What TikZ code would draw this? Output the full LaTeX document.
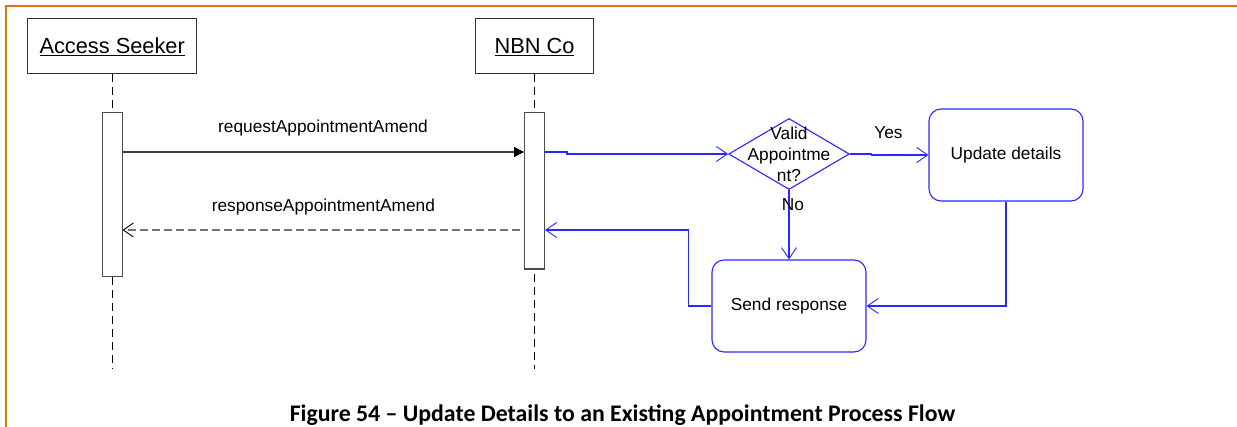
\documentclass[tikz,border=0pt]{standalone}
\usepackage{fontspec}
\setmainfont{Liberation Sans}
\newfontfamily\capfont{Carlito}
\usetikzlibrary{arrows.meta,shapes.geometric}
\definecolor{flowblue}{RGB}{40,40,255}
\definecolor{borderor}{RGB}{214,120,14}
\newcommand\lblfont{\fontsize{17.3}{21}\selectfont}
\newcommand\hdrfont{\fontsize{21.8}{26}\selectfont}
\tikzset{
  hdrbox/.style={draw=black!80, line width=1.1pt, fill=white, minimum height=55pt, inner sep=0pt, font=\hdrfont, text height=17pt, text depth=2pt},
  actbox/.style={draw=black!70, line width=1.1pt, fill=white, minimum width=19.7pt, inner sep=0pt},
  procbox/.style={draw=flowblue, line width=1.1pt, rounded corners=12pt, minimum width=154pt, minimum height=92pt, inner sep=0pt, font=\lblfont},
  decbox/.style={draw=flowblue, line width=1.1pt, diamond, minimum width=120.7pt, minimum height=71pt, inner sep=0pt},
  lifeln/.style={draw=black, line width=0.9pt, dash pattern=on 8pt off 5pt},
  reqmsg/.style={draw=black!75, line width=1.2pt, -{Triangle[length=10pt,width=10pt,color=black]}},
  respmsg/.style={draw=black!55, line width=1.7pt, dash pattern=on 8pt off 4pt, -{Straight Barb[length=10pt,width=14pt,line width=0.9pt,color=black]}},
  flow/.style={draw=flowblue, line width=1.1pt, -{Straight Barb[length=11pt,width=15pt,line width=0.9pt]}},
  lbl/.style={font=\lblfont, inner sep=0pt, anchor=base},
}
\begin{document}
\begin{tikzpicture}[x=1pt,y=-1pt]
\useasboundingbox[fill=white] (0,0) rectangle (1237,427);
% border
\draw[borderor, line width=2.5pt, line join=miter] (1237,6.2) -- (6.2,6.2) -- (6.2,427);
% participants
\node[hdrbox, minimum width=169pt] (as) at (112.2,45.8) {\underline{Access Seeker}};
\node[hdrbox, minimum width=117.6pt] (nbn) at (534.5,45.8) {\underline{NBN Co}};
\node[actbox, minimum height=164pt] (asact) at (112.2,194.7) {};
\node[actbox, minimum height=156.3pt] (nbnact) at (534.5,190.85) {};
\coordinate (asend) at (112.2,369);
\coordinate (nbnend) at (534.5,369);
\draw[lifeln] (as.south) -- (asact.north);
\draw[lifeln] (asact.south) -- (asend);
\draw[lifeln] (nbn.south) -- (nbnact.north);
\draw[lifeln] ([yshift=-4pt]nbnact.south) -- (nbnend);
% flow nodes
\node[decbox] (dec) at (789,154) {};
\node[font=\lblfont, align=center, inner sep=0pt] (dectxt) at (789,154) {Valid\\Appointme\\nt?};
\node[procbox] (upd) at (1006,155) {Update details};
\node[procbox] (send) at (789,306) {Send response};
\coordinate (reqy) at (0,152);
\coordinate (jog1) at (567,152);
\coordinate (jog2) at (871.5,154);
\coordinate (ret) at (688.5,230);
% messages
\draw[reqmsg] (asact.east |- reqy) -- (nbnact.west |- reqy);
\draw[respmsg] ([xshift=-4pt]nbnact.west |- ret) -- (asact.east |- ret);
\node[lbl] (reqlbl) at (323,133) {requestAppointmentAmend};
\node[lbl] (resplbl) at (323.4,211.7) {responseAppointmentAmend};
% flow connectors
\draw[flow] (nbnact.east |- jog1) -- (jog1) |- (dec.west);
\draw[flow] (dec.east) -- (jog2) |- (upd.west);
\draw[flow] (dec.south) -- (send.north);
\draw[flow] (upd.south) |- (send.east);
\draw[flow] (send.west) -| (ret) -- (nbnact.east |- ret);
\node[lbl] (yes) at (888.5,138.3) {Yes};
\node[lbl] (no) at (793,210.7) {No};
% caption
\node[font={\capfont\bfseries\fontsize{23.8}{28}\selectfont}, anchor=base, inner sep=0pt] (cap) at (622.5,421.7) {Figure 54 – Update Details to an Existing Appointment Process Flow};
\end{tikzpicture}
\end{document}
